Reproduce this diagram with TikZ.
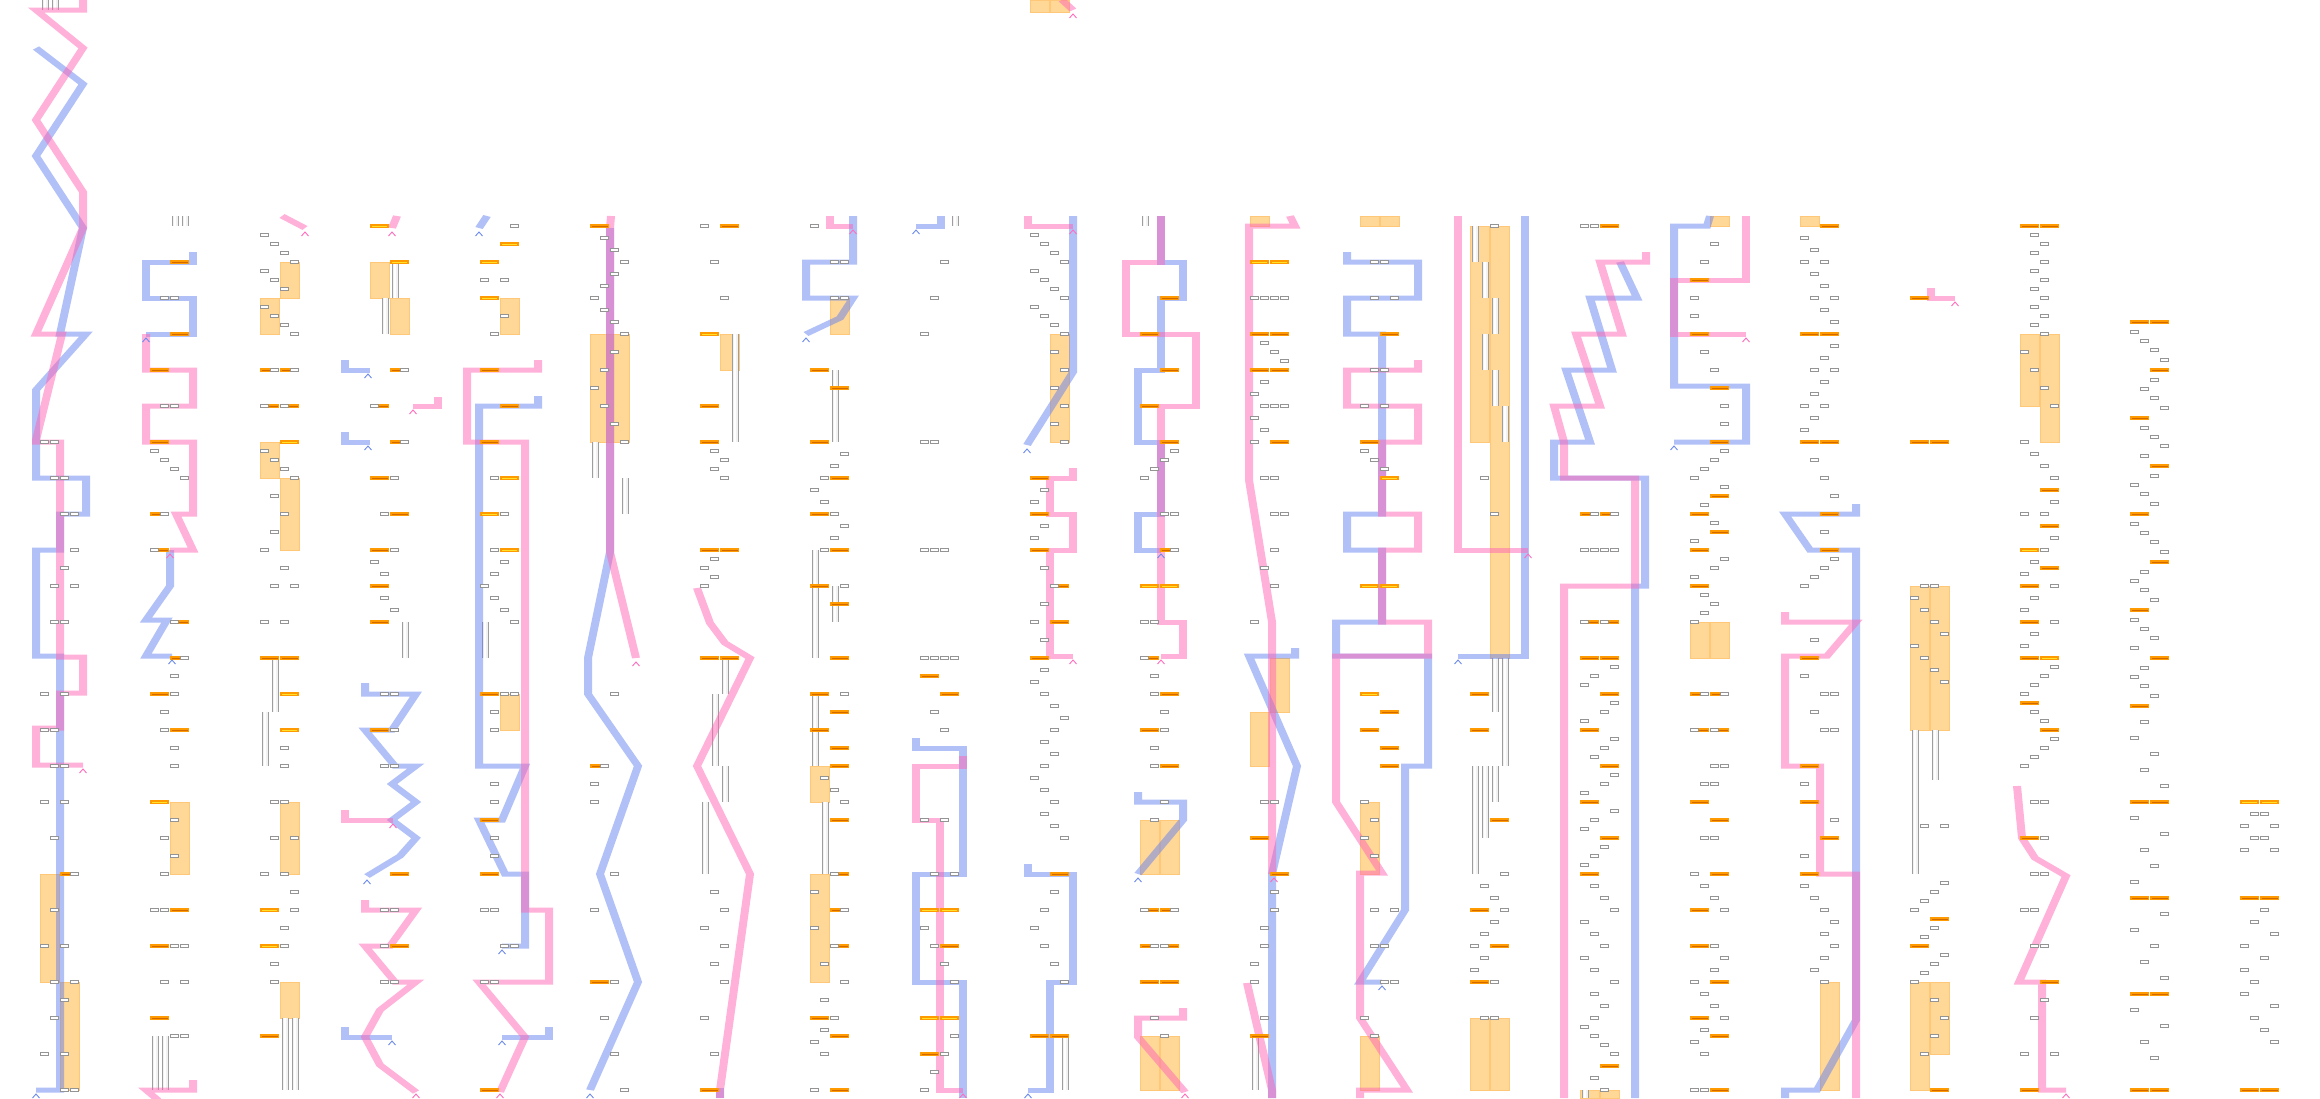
\documentclass[tikz,border=0pt]{standalone}
\usetikzlibrary{calc}
\definecolor{bbase}{RGB}{100,130,240}
\definecolor{pbase}{RGB}{255,100,180}
\definecolor{tanf}{RGB}{255,216,152}
\definecolor{tand}{RGB}{255,200,120}
\definecolor{orf}{RGB}{255,154,0}
\definecolor{orl}{RGB}{210,104,0}
\definecolor{yel}{RGB}{255,226,40}
\definecolor{chb}{RGB}{110,140,240}
\definecolor{chp}{RGB}{255,110,190}
\tikzset{
  bxs/.style={draw=black!42,fill=white,line width=0.8pt},
  tanst/.style={fill=tanf,draw=tand,line width=0.6pt},
  grayline/.style={draw=black!38,line width=0.7pt},
  bpath/.style={draw=bbase,draw opacity=0.5,line width=5pt,line join=miter,miter limit=3},
  ppath/.style={draw=pbase,draw opacity=0.5,line width=5pt,line join=miter,miter limit=3},
}
\newcommand\zbox[2]{\draw[bxs] ({#1+0.5},{#2-1.5}) rectangle ({#1+8.5},{#2+1.5});}
\newcommand\zor[2]{\fill[orf] (#1,{#2-1.6}) rectangle ({#1+19},{#2+1.6});\draw[orl,line width=0.7pt] ({#1+1.5},#2)--({#1+17.5},#2);}
\newcommand\zyl[2]{\fill[orf] (#1,{#2-1.6}) rectangle ({#1+19},{#2+1.6});\draw[yel,line width=0.9pt] ({#1+2},#2)--({#1+17},#2);}
\newcommand\ztan[3]{\filldraw[tanst] (#1,#2) rectangle ({#1+19},#3);}
\newcommand\zgray[3]{\fill[black!5] ({#1+2},#2) rectangle ({#1+8},#3);\fill[white] ({#1+4},#2) rectangle ({#1+6},#3);\draw[grayline] ({#1+2},#2)--({#1+2},#3) ({#1+8},#2)--({#1+8},#3);}
\newcommand\boxesL[1]{\foreach \xx/\yy in {#1}{\zbox{\xx}{\yy}}}
\newcommand\orL[1]{\foreach \xx/\yy in {#1}{\zor{\xx}{\yy}}}
\newcommand\ylL[1]{\foreach \xx/\yy in {#1}{\zyl{\xx}{\yy}}}
\newcommand\tanL[1]{\foreach \xx/\ya/\yb in {#1}{\ztan{\xx}{\ya}{\yb}}}
\newcommand\grL[1]{\foreach \xx/\ya/\yb in {#1}{\zgray{\xx}{\ya}{\yb}}}
\newcommand\chv[3]{\draw[#3,line width=0.9pt] ({#1-3.5},{#2+8})--(#1,{#2+4})--({#1+3.5},{#2+8});}
\begin{document}
\begin{tikzpicture}[x=1pt,y=-1pt]
\useasboundingbox (0,0) rectangle (2320,1098);
\fill[white] (0,0) rectangle (2320,1098);
% tan rectangles
\tanL{40/874/982,60/982/1090,170/802/874,280/262/298,260/298/334,260/442/478,280/478/550,280/802/874,280/982/1018,
370/262/298,390/298/334,500/298/334,500/694/730,720/334/370,830/298/334,810/766/802,810/874/982,1050/334/442,1030/0/12,1050/0/12,
1140/820/874,1160/820/874,1140/1036/1090,1160/1036/1090,1250/216/226,1270/658/712,1250/712/766,
1360/216/226,1380/216/226,1360/802/874,1360/1036/1090,1470/226/442,1490/226/658,1470/1018/1090,1490/1018/1090,
1580/1090/1098,1600/1090/1098,1710/216/226,1690/622/658,1710/622/658,1800/216/226,1820/982/1090,
1910/586/730,1930/586/730,1910/982/1090,1930/982/1054,2020/334/406,2040/334/442}
\filldraw[tanst] (590,334) rectangle (629,442);
% gray bars
\grL{40/0/10,50/0/10,170/216/226,180/216/226,150/1036/1090,160/1036/1090,270/658/712,260/712/766,280/1018/1090,290/1018/1090,
390/262/298,380/298/334,400/622/658,480/622/658,590/442/478,620/478/514,730/334/442,720/658/694,710/694/766,720/766/802,700/802/874,
830/370/442,810/550/658,830/586/622,810/694/766,820/802/874,950/216/226,1060/1036/1090,1140/216/226,1250/1036/1090,
1470/226/262,1480/262/298,1490/298/334,1480/334/370,1490/370/406,1500/406/442,1490/658/712,1500/658/766,1470/766/874,1480/766/838,1490/766/802,
1580/1090/1098,1910/730/874,1930/730/780}
% thick paths
\begin{scope}[transform canvas={xscale=1.6}]
\begin{scope}[x=0.625pt]
\draw[bpath] (36,48)--(83,84)--(36,156)--(83,228)--(60,334)--(86,334)--(36,390)--(36,478)--(86,478)--(86,514)--(60,514)--(60,550)--(36,550)--(36,656)--(60,656)--(60,1090)--(36,1090);
\draw[bpath] (193,252)--(193,262)--(146,262)--(146,298)--(193,298)--(193,334)--(146,334);
\draw[bpath] (170,550)--(170,586)--(146,620)--(167,620)--(146,656)--(172,656);
\draw[bpath] (345,360)--(345,370)--(370,370);
\draw[bpath] (345,432)--(345,442)--(370,442);
\draw[bpath] (365,683)--(365,694)--(416,694)--(392,730)--(365,730)--(395,766)--(416,766)--(392,784)--(416,802)--(392,820)--(416,838)--(400,856)--(367,876);
\draw[bpath] (345,1027)--(345,1037)--(392,1037);
\draw[bpath] (487,216)--(479,228);
\draw[bpath] (538,396)--(538,406)--(479,406)--(479,766)--(525,766)--(502,820)--(479,820)--(505,874)--(525,874)--(525,946)--(502,946);
\draw[bpath] (549,1027)--(549,1037)--(502,1037);
\draw[bpath] (610,228)--(610,552)--(588,658)--(588,694)--(638,766)--(600,874)--(638,982)--(590,1090);
\draw[bpath] (720,1088)--(720,1098);
\draw[bpath] (853,216)--(853,262)--(806,262)--(806,298)--(853,298)--(840,318)--(806,334);
\draw[bpath] (941,216)--(941,226)--(916,226);
\draw[bpath] (916,738)--(916,748)--(963,748)--(963,874)--(916,874)--(916,982)--(963,982)--(963,1098);
\draw[bpath] (1073,216)--(1073,372)--(1027,445);
\draw[bpath] (1028,864)--(1028,874)--(1073,874)--(1073,982)--(1050,982)--(1050,1090)--(1028,1090);
\draw[bpath] (1161,216)--(1161,262)--(1183,262)--(1183,298)--(1161,298)--(1161,370)--(1138,370)--(1138,442)--(1161,442)--(1161,514)--(1138,514)--(1138,550)--(1161,550);
\draw[bpath] (1138,792)--(1138,802)--(1183,802)--(1183,820)--(1138,874);
\draw[bpath] (1295,648)--(1295,656)--(1249,656)--(1297,766)--(1272,874)--(1272,1098);
\draw[bpath] (1347,252)--(1347,262)--(1418,262)--(1418,298)--(1347,298)--(1347,334)--(1382,334)--(1382,514)--(1347,514)--(1347,550)--(1382,550)--(1382,622)--(1336,622)--(1336,656)--(1428,656)--(1428,766)--(1405,766)--(1405,910)--(1360,982)--(1382,982);
\draw[bpath] (1525,216)--(1525,656)--(1458,656);
\draw[bpath] (1620,262)--(1637,298)--(1590,298)--(1612,370)--(1566,370)--(1590,442)--(1554,442)--(1554,478)--(1645,478)--(1645,586)--(1635,586)--(1635,1098);
\draw[bpath] (1710,216)--(1707,226)--(1674,226)--(1674,386)--(1746,386)--(1746,442)--(1674,442);
\draw[bpath] (1856,504)--(1856,514)--(1785,514)--(1810,550)--(1856,550)--(1856,1020)--(1817,1090)--(1785,1090)--(1785,1098);
% pink
\draw[ppath] (83,0)--(83,10)--(36,10)--(83,48)--(36,120)--(83,192)--(83,228)--(36,334)--(62,334)--(36,440)--(36,442)--(60,442)--(60,657)--(83,657)--(83,693)--(60,693)--(60,728)--(36,728)--(36,765)--(83,765);
\draw[ppath] (146,334)--(146,370)--(193,370)--(193,406)--(146,406)--(146,442)--(193,442)--(193,514)--(176,514)--(193,550)--(170,550);
\draw[ppath] (193,1080)--(193,1090)--(146,1090)--(158,1100);
\draw[ppath] (282,216)--(305,228);
\draw[ppath] (397,216)--(392,228);
\draw[ppath] (438,397)--(438,406)--(413,406);
\draw[ppath] (345,810)--(345,820)--(393,820);
\draw[ppath] (365,900)--(365,910)--(416,910)--(390,946)--(365,946)--(395,982)--(416,982)--(380,1010)--(365,1037)--(380,1065)--(416,1092);
\draw[ppath] (538,360)--(538,370)--(467,370)--(467,442)--(525,442)--(525,910)--(549,910)--(549,982)--(479,982)--(525,1037)--(500,1092);
\draw[ppath] (611,216)--(610,228)--(610,552)--(636,658);
\draw[ppath] (697,588)--(710,623)--(725,643)--(750,658)--(697,766)--(750,874)--(720,1090)--(720,1098);
\draw[ppath] (830,216)--(830,226)--(853,226);
\draw[ppath] (963,756)--(963,766)--(916,766)--(916,820)--(940,820)--(940,1090)--(963,1090);
\draw[ppath] (1062,0)--(1073,10);
\draw[ppath] (1028,216)--(1028,226)--(1073,226);
\draw[ppath] (1073,468)--(1073,478)--(1050,478)--(1050,514)--(1073,514)--(1073,550)--(1050,550)--(1050,656)--(1073,656);
\draw[ppath] (1161,216)--(1161,262)--(1126,262)--(1126,334)--(1196,334)--(1196,406)--(1161,406)--(1161,622)--(1183,622)--(1183,656)--(1161,656);
\draw[ppath] (1183,1008)--(1183,1018)--(1138,1018)--(1138,1037)--(1185,1092);
\draw[ppath] (1290,216)--(1295,226)--(1249,226)--(1249,480)--(1272,622)--(1272,874);
\draw[ppath] (1247,983)--(1272,1090)--(1272,1098);
\draw[ppath] (1418,360)--(1418,370)--(1347,370)--(1347,406)--(1418,406)--(1418,442)--(1382,442)--(1382,514)--(1418,514)--(1418,550)--(1382,550)--(1382,622)--(1428,622)--(1428,656)--(1336,656)--(1336,802)--(1382,873)--(1360,873)--(1360,1018)--(1407,1090)--(1360,1090)--(1360,1098);
\draw[ppath] (1458,216)--(1458,550)--(1528,550);
\draw[ppath] (1646,252)--(1646,262)--(1600,262)--(1622,334)--(1576,334)--(1600,406)--(1554,406)--(1564,442)--(1564,478)--(1635,478)--(1635,586)--(1564,586)--(1564,1098);
\draw[ppath] (1746,216)--(1746,280)--(1674,280)--(1674,334)--(1746,334);
\draw[ppath] (1785,612)--(1785,622)--(1856,622)--(1827,656)--(1785,656)--(1785,766)--(1820,766)--(1820,874)--(1856,874)--(1856,1098);
\draw[ppath] (1931,288)--(1931,298)--(1955,298);
\draw[ppath] (2017,786)--(2022,838)--(2035,858)--(2066,876)--(2019,982)--(2042,982)--(2042,1090)--(2066,1090);
\end{scope}
\end{scope}
% orange bars
\orL{60/874,170/262,170/334,150/370,150/442,150/514,150/550,170/622,170/658,150/694,170/730,170/910,150/946,150/1018,
260/370,280/370,260/406,280/406,260/658,280/658,260/1036,
390/370,370/406,390/442,370/478,390/514,370/550,370/586,370/622,370/730,390/874,390/946,
480/370,500/406,480/442,480/694,480/820,480/874,480/1090,590/226,590/766,590/982,
720/226,700/406,700/442,700/550,720/550,700/658,720/658,700/1090,
810/370,830/388,810/442,830/478,810/514,830/550,810/586,830/604,830/658,810/694,830/712,810/730,830/748,830/766,830/820,830/874,830/910,830/946,810/1018,830/1036,830/1090,
920/676,940/694,940/946,920/1054,1030/478,1030/514,1030/550,1050/586,1050/622,1030/658,1050/874,1030/1036,1050/1036,
1160/298,1140/334,1160/370,1140/406,1160/442,1160/550,1140/658,1160/694,1140/730,1160/766,1140/910,1160/910,1140/946,1160/946,1140/982,1160/982,
1250/334,1270/334,1250/370,1270/370,1270/442,1250/838,1270/874,1250/1036,1380/334,1360/442,1380/712,1360/730,1380/748,1380/766,
1470/694,1470/730,1490/820,1470/910,1490/946,1470/982,
1600/226,1580/514,1600/514,1580/622,1600/622,1580/658,1600/658,1600/694,1580/730,1600/766,1580/802,1600/838,1580/874,1600/1066,
1690/280,1690/334,1710/388,1710/442,1710/496,1690/514,1710/532,1690/550,1690/586,1690/694,1710/694,1690/730,1710/730,1690/802,1710/820,1710/874,1690/910,1690/946,1710/982,1690/1018,1710/1036,1710/1090,
1820/226,1800/334,1820/334,1800/442,1820/442,1820/514,1820/550,1800/658,1800/766,1800/802,1820/838,1800/874,
1910/298,1910/442,1930/442,1930/919,1910/946,1930/1090,
2020/226,2040/226,2040/490,2040/526,2040/568,2020/586,2020/622,2020/658,2020/703,2040/730,2020/838,2040/982,2020/1090,
2130/322,2150/322,2150/370,2130/418,2150/466,2130/514,2150/562,2130/610,2150/658,2130/706,2130/802,2150/802,2130/898,2150/898,2130/994,2150/994,2130/1090,2150/1090,
2240/898,2260/898,2240/1090,2260/1090}
\ylL{150/802,280/442,280/694,280/730,260/910,260/946,370/226,390/262,500/244,480/262,480/298,500/478,480/514,500/550,700/334,
920/910,940/910,920/1018,940/1018,1140/586,1160/586,1250/262,1270/262,1380/478,1360/586,1380/586,1360/694,2020/550,2040/658,2240/802,2260/802}
% small boxes
\boxesL{40/442,50/442,50/478,60/478,60/514,70/514,70/550,60/568,50/586,70/586,50/622,60/622,40/694,60/694,40/730,50/730,50/766,60/766,40/802,60/802,50/838,70/874,50/910,40/946,60/946,50/982,70/982,60/1000,50/1018,40/1054,60/1054,60/1090,70/1090}
\boxesL{160/298,170/298,160/406,170/406,150/451,160/460,170/469,180/478,160/514,150/550,170/622,180/658,170/676,170/694,160/712,160/730,170/748,170/766,170/820,160/838,170/856,160/874,150/910,160/910,170/946,180/946,160/982,180/982,170/1036,180/1036}
\boxesL{260/235,270/244,280/253,290/262,260/271,270/280,280/289,260/307,270/316,280/325,290/334,270/370,290/370,260/406,280/406,260/451,270/460,280/469,290/478,270/496,280/514,270/532,260/550,280/568,270/586,290/586,260/622,280/622,280/748,280/766,270/802,280/802,270/838,290/838,260/874,280/874,290/892,290/910,280/928,280/946,270/964,270/982}
\boxesL{400/370,370/406,400/442,390/478,380/514,390/550,370/562,380/574,380/598,390/610,380/694,390/694,390/730,380/766,390/766,380/910,390/910,380/946,380/982,390/982}
\boxesL{510/226,480/280,500/280,500/316,490/334,490/478,500/514,490/550,500/562,490/574,480/586,490/598,500/610,510/622,500/694,510/694,490/712,490/730,490/784,490/802,490/838,490/856,480/910,490/910,500/946,510/946,480/982,490/982}
\boxesL{600/238,610/250,620/262,610/274,600/286,590/298,600/310,610/322,620/334,610/352,600/370,590/388,600/406,610/424,620/442,610/694,600/766,590/784,590/802,610/874,590/910,610/982,600/1018,610/1054,620/1090}
\boxesL{700/226,710/262,720/298,710/451,720/460,710/469,720/478,710/559,700/568,710/577,700/586,710/892,720/910,700/928,720/946,710/964,720/982,700/1018,710/1054}
\boxesL{810/226,830/262,840/262,830/298,840/298,840/454,830/466,820/478,810/490,820/502,830/514,840/526,830/538,820/550,840/586,840/694,820/778,830/790,840/802,830/874,810/892,840/910,810/928,830/946,820/964,840/982,820/1000,830/1018,820/1030,810/1042,820/1054,810/1090}
\boxesL{940/262,930/298,920/334,920/442,930/442,920/550,930/550,940/550,920/658,930/658,940/658,950/658,930/712,940/730,920/820,940/820,930/874,950/874,920/928,930/946,940/964,950/982,950/1036,940/1054,930/1072,920/1090}
\boxesL{1030/235,1040/244,1050/253,1060/262,1030/271,1040/280,1050/289,1060/298,1030/307,1040/316,1050/325,1060/334,1050/352,1060/370,1050/388,1060/406,1050/424,1060/442,1040/490,1030/502,1040/526,1030/538,1040/568,1050/586,1040/604,1030/622,1040/640,1040/670,1030/682,1040/694,1050/706,1060/718,1050/730,1040/742,1050/754,1040/766,1030/778,1040/790,1050/802,1040/814,1050/826,1060/838,1050/892,1040/910,1030/928,1040/946,1050/964,1060/982}
\boxesL{1170/451,1160/460,1150/469,1140/478,1160/514,1170/514,1170/550,1140/622,1150/622,1140/658,1150/676,1150/694,1160/712,1160/730,1150/748,1150/766,1160/802,1150/820,1140/910,1170/910,1150/946,1160/946,1150/1018,1160/1036}
\boxesL{1250/298,1260/298,1270/298,1280/298,1260/343,1270/352,1280/361,1260/382,1250/394,1260/406,1270/406,1280/406,1250/418,1260/430,1250/442,1260/478,1270/478,1270/514,1280/514,1270/550,1260/568,1270/586,1250/622,1260/802,1270/802,1270/892,1270/910,1260/928,1260/946,1250/964,1250/982,1260/1018}
\boxesL{1370/262,1380/262,1370/298,1390/298,1370/370,1380/370,1360/406,1380/406,1360/451,1370/460,1380/469,1360/802,1370/820,1360/838,1370/856,1370/910,1390/910,1370/946,1380/946,1380/982,1390/982,1360/1018,1370/1036}
\boxesL{1490/226,1480/478,1490/514,1500/874,1480/886,1490/898,1500/910,1490/922,1480/934,1470/946,1480/958,1470/970,1490/982,1480/1018,1490/1018}
\boxesL{1580/226,1590/226,1590/514,1610/514,1580/550,1590/550,1600/550,1610/550,1580/622,1600/622,1610/667,1590/676,1580/685,1610/703,1600/712,1580/721,1610/739,1600/748,1590/757,1610/775,1600/784,1580/793,1610/811,1590/820,1580/829,1600/847,1590/856,1580/865,1590/886,1600/898,1610/910,1580/922,1590/934,1600/946,1580/958,1590/970,1610/982,1590/994,1600/1006,1590/1018,1580/1027,1590/1036,1600/1045,1610/1054,1590/1078,1600/1090}
\boxesL{1710/244,1700/262,1690/298,1690/316,1700/352,1710/370,1720/406,1720/424,1720/451,1710/460,1700/469,1690/478,1720/487,1700/505,1710/523,1690/541,1720/559,1710/568,1690/577,1700/595,1710/604,1700/613,1690/622,1700/694,1720/694,1690/730,1710/730,1710/766,1720/766,1700/784,1710/784,1700/838,1710/838,1690/874,1700/886,1710/898,1720/910,1710/946,1720/958,1710/970,1690/982,1700/994,1710/1006,1720/1018,1700/1030,1690/1042,1700/1054,1690/1090,1700/1090}
\boxesL{1800/238,1810/250,1800/262,1820/262,1810/274,1820/286,1810/298,1830/298,1820/310,1830/322,1830/346,1820/358,1810/370,1830/370,1820/382,1810/394,1800/406,1820/406,1810/418,1800/430,1810/460,1820/478,1830/496,1820/532,1830/559,1820/568,1810/577,1800/586,1810/640,1800/676,1820/694,1830/694,1810/712,1820/730,1830/730,1800/784,1830/820,1800/856,1800/886,1810/898,1820/910,1830/922,1820/934,1830/946,1820/958,1810/970,1820/982}
\boxesL{1920/586,1930/586,1910/598,1920/610,1930/622,1940/634,1910/646,1920/658,1930/670,1940/682,1920/826,1940/826,1940/883,1930/892,1920/901,1910/910,1930/928,1920/937,1940/955,1930/964,1920/973,1910/982,1930/1000,1940/1018,1930/1036,1920/1054}
\boxesL{2030/235,2040/244,2030/253,2040/262,2030/271,2040/280,2030/289,2040/298,2030/307,2040/316,2030/325,2040/334,2020/352,2030/370,2040/388,2050/406,2020/442,2030/454,2040/466,2050/478,2050/502,2020/514,2040/514,2050/538,2040/550,2030/562,2020/574,2050/586,2030/598,2020/610,2050/622,2030/634,2020/646,2050/667,2040/676,2030/685,2020/694,2030/712,2040/721,2050/739,2040/748,2030/757,2020/766,2030/802,2040/802,2040/838,2030/874,2040/874,2020/910,2030/910,2030/946,2040/946,2040/1000,2030/1018,2020/1054,2050/1054}
\boxesL{2130/332,2140/341,2150/350,2160/360,2150/380,2140/389,2150/398,2160/408,2140/428,2150/437,2160/446,2140/456,2150/476,2130/485,2140/494,2150/504,2130/524,2140/533,2150/542,2160/552,2140/572,2130/581,2140/590,2150/600,2130/620,2140/629,2150/638,2130/648,2140/668,2130/677,2140/686,2150/696,2140/722,2130/738,2150/754,2140/770,2160/786,2130/818,2160/834,2140/850,2150/866,2130/882,2160/914,2130/930,2150/946,2140/962,2160/978,2130/1010,2160/1026,2140/1042,2150/1058}
\boxesL{2250/814,2260/814,2240/826,2270/826,2250/838,2260/838,2240/850,2270/850,2260/910,2250/922,2270/934,2240/946,2260/958,2240/970,2250/982,2240/994,2270/1006,2250/1018,2260/1030,2270/1042}
% chevrons
\foreach \xx/\yy in {36/1090,146/334,172/656,368/370,368/442,367/876,392/1037,479/228,502/946,502/1037,590/1090,806/334,916/226,1027/445,1028/1090,1161/550,1138/874,1382/982,1458/656,1674/442}{\chv{\xx}{\yy}{chb}}
\foreach \xx/\yy in {83/765,170/550,305/228,392/228,413/406,393/820,416/1090,500/1090,636/658,853/226,963/1090,1073/226,1073/656,1073/10,1161/656,1185/1090,1274/874,1528/550,1746/334,1955/298,2066/1090}{\chv{\xx}{\yy}{chp}}
\end{tikzpicture}
\end{document}
